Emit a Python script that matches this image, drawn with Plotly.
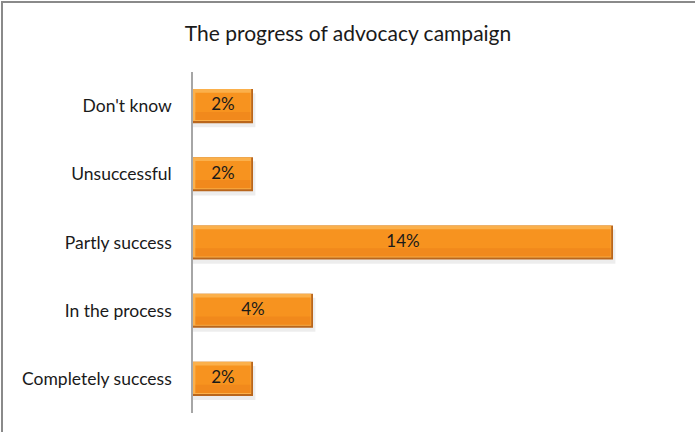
import plotly.graph_objects as go

# Survey responses, listed bottom-to-top as drawn on the category axis
categories = ["Completely success", "In the process", "Partly success", "Unsuccessful", "Don't know"]
shares = [2, 4, 14, 2, 2]  # percent of respondents
labels = [f"{v}%" for v in shares]

FONT = "Lato, 'Open Sans', 'DejaVu Sans', sans-serif"
BAR_W = 0.5

fig = go.Figure()

# soft drop shadow beneath each bar
fig.add_trace(go.Bar(
    y=categories, x=[v + 0.08 for v in shares], orientation="h",
    width=BAR_W, offset=-BAR_W / 2 - 0.06,
    marker=dict(color="rgba(0,0,0,0.07)", line=dict(width=0)),
    hoverinfo="skip", showlegend=False,
))
# dark bevel edge
fig.add_trace(go.Bar(
    y=categories, x=shares, orientation="h",
    width=BAR_W, offset=-BAR_W / 2,
    marker=dict(color="#B9661C", line=dict(width=0)),
    hoverinfo="skip", showlegend=False,
))
# light left/top bevel
fig.add_trace(go.Bar(
    y=categories, x=[v - 0.06 for v in shares], orientation="h",
    width=BAR_W - 0.03, offset=-BAR_W / 2 + 0.03,
    marker=dict(color="#FBB04B", line=dict(width=0)),
    hoverinfo="skip", showlegend=False,
))
# main orange face
fig.add_trace(go.Bar(
    y=categories, x=[v - 0.16 for v in shares], base=0.08, orientation="h",
    width=BAR_W - 0.1, offset=-BAR_W / 2 + 0.045,
    marker=dict(color="#F7931F", line=dict(width=0)),
    hoverinfo="skip", showlegend=False,
))
# lower deeper band
fig.add_trace(go.Bar(
    y=categories, x=[v - 0.16 for v in shares], base=0.08, orientation="h",
    width=0.12, offset=-BAR_W / 2 + 0.045,
    marker=dict(color="rgba(232,126,24,0.45)", line=dict(width=0)),
    hoverinfo="skip", showlegend=False,
))
# value labels centred on each bar
fig.add_trace(go.Scatter(
    y=categories, x=[v / 2 for v in shares], mode="text",
    text=labels, textposition="middle center",
    textfont=dict(family=FONT, size=17, color="#1a1a1a"),
    hoverinfo="skip", showlegend=False,
))

# outer chart frame (top and left edges visible)
W, H = 695, 432
L, R, T, B = 193, 22, 72, 19
pw, ph = W - L - R, H - T - B
fig.add_shape(
    type="rect", xref="paper", yref="paper",
    x0=(2 - L) / pw, x1=(W + 10 - L) / pw,
    y0=-(B + 10) / ph, y1=(H - 2 - B) / ph,
    line=dict(color="#8a8a8a", width=2), fillcolor="rgba(0,0,0,0)", layer="below",
)

fig.update_layout(
    width=W, height=H,
    margin=dict(l=L, r=R, t=T, b=B),
    paper_bgcolor="white", plot_bgcolor="white",
    barmode="overlay",
    title=dict(
        text="The progress of advocacy campaign",
        x=348 / W, xref="container", xanchor="center",
        y=1 - 34 / H, yref="container", yanchor="middle",
        font=dict(family=FONT, size=21, color="#1a1a1a"),
    ),
    xaxis=dict(range=[0, 16], visible=False, fixedrange=True),
    yaxis=dict(
        categoryorder="array", categoryarray=categories,
        showline=True, linecolor="#a6a6a6", linewidth=1.5,
        showgrid=False, zeroline=False, ticks="", ticklabelstandoff=16,
        tickfont=dict(family=FONT, size=17.5, color="#1a1a1a"),
    ),
)

fig.write_html("out.html")
